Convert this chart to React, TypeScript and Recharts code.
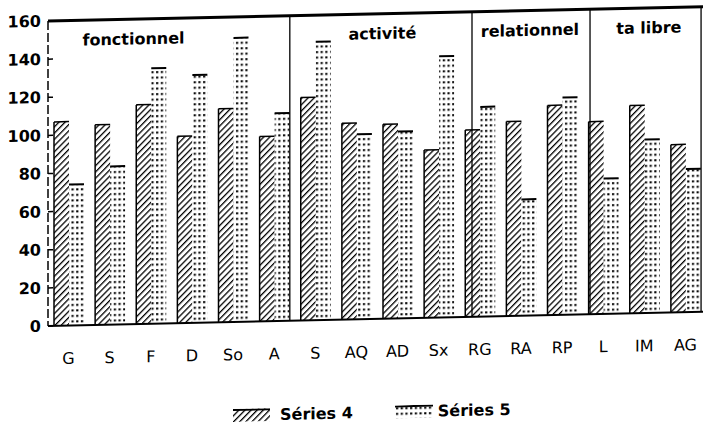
import { BarChart, Bar, XAxis, YAxis, ReferenceLine, Legend } from 'recharts'

// categories along the x axis (S appears twice, in two groups)
const CATEGORIES = ['G', 'S', 'F', 'D', 'So', 'A', 'S', 'AQ', 'AD', 'Sx', 'RG', 'RA', 'RP', 'L', 'IM', 'AG']
const SERIES_4 = [107, 105, 115, 98, 112, 97, 117, 103, 102, 88, 98, 102, 110, 101, 109, 88]
const SERIES_5 = [74, 83, 134, 130, 149, 109, 146, 97, 98, 137, 110, 61, 114, 71, 91, 75]
const Y_TICKS = [0, 20, 40, 60, 80, 100, 120, 140, 160]

// group headers and the dividers between them, on a 0..16 category index scale
const GROUP_NAMES = ['fonctionnel', 'activité', 'relationnel', 'ta libre']
const GROUP_LABEL_AT = [2.08, 8.13, 11.72, 14.61]
const GROUP_DIVIDERS = [5.88, 10.31, 13.18, 15.88]

const data = CATEGORIES.map((c, i) => ({ key: `${c}|${i}`, pos: i + 0.5, s4: SERIES_4[i], s5: SERIES_5[i] }))

const FONT = 'DejaVu Sans'

function HatchedBar(props: any) {
  const { x, y, width, height } = props
  if (!height) return null
  return (
    <g>
      <rect x={x} y={y} width={width} height={height} fill="url(#hatch)" />
      <line x1={x} y1={y} x2={x} y2={y + height} stroke="#000" strokeWidth={1.5} />
      <line x1={x} y1={y} x2={x + width} y2={y} stroke="#000" strokeWidth={1.5} />
    </g>
  )
}

function DottedBar(props: any) {
  const { x, y, width, height } = props
  if (!height) return null
  return (
    <g>
      <rect x={x} y={y} width={width} height={height} fill="url(#dots)" />
      <line x1={x} y1={y} x2={x + width} y2={y} stroke="#000" strokeWidth={2} />
    </g>
  )
}

function LegendBox() {
  const text = { fontFamily: FONT, fontWeight: 700, fontSize: 16, color: '#000' }
  return (
    <div style={{ display: 'flex', alignItems: 'center', height: 16 }}>
      <svg width={37} height={13}>
        <rect x={0} y={0} width={37} height={13} fill="url(#hatch)" />
        <line x1={0} y1={1} x2={37} y2={1} stroke="#000" strokeWidth={2} />
      </svg>
      <span style={{ ...text, marginLeft: 10 }}>Séries 4</span>
      <svg width={38} height={13} style={{ marginLeft: 42 }}>
        <rect x={0} y={0} width={38} height={13} fill="url(#dots)" />
        <line x1={0} y1={1} x2={38} y2={1} stroke="#000" strokeWidth={2} />
      </svg>
      <span style={{ ...text, marginLeft: 5 }}>Séries 5</span>
    </div>
  )
}

export default function App() {
  return (
    <div style={{ position: 'absolute', left: 0, top: 0, width: 703, height: 431, overflow: 'hidden', background: '#fff' }}>
      <div style={{ width: 708, height: 431, transform: 'skewY(-1.25deg)', transformOrigin: '48px 333px' }}>
        <BarChart
          width={708}
          height={431}
          data={data}
          margin={{ top: 21, right: 2, left: 8, bottom: 42 }}
          barCategoryGap={6}
          barGap={0}
        >
          <defs>
            <pattern id="hatch" patternUnits="userSpaceOnUse" width={4.4} height={4.4} patternTransform="rotate(45)">
              <rect width={4.4} height={4.4} fill="#fff" />
              <line x1={0} y1={0} x2={0} y2={4.4} stroke="#000" strokeWidth={2.6} />
            </pattern>
            <pattern id="dots" patternUnits="userSpaceOnUse" width={4.7} height={5.5}>
              <rect width={4.7} height={5.5} fill="#fff" />
              <rect x={1} y={2} width={2.2} height={2} fill="#000" />
            </pattern>
          </defs>
          <XAxis
            dataKey="key"
            interval={0}
            height={40}
            tickLine={false}
            tickMargin={21}
            tickFormatter={(v: string) => v.split('|')[0]}
            axisLine={{ stroke: '#000', strokeWidth: 2 }}
            tick={{ fill: '#000', fontSize: 16, fontFamily: FONT }}
          />
          <XAxis
            xAxisId="grp"
            dataKey="pos"
            type="number"
            scale="linear"
            domain={[0, 16]}
            allowDataOverflow
            padding={{ left: 0, right: 0 }}
            hide
          />
          <YAxis
            domain={[0, 160]}
            ticks={Y_TICKS}
            width={40}
            tickSize={-5}
            tickMargin={12}
            axisLine={{ stroke: '#000', strokeWidth: 1.5, strokeDasharray: '9 3' }}
            tickLine={{ stroke: '#000', strokeWidth: 1.5 }}
            tick={{ fill: '#000', fontSize: 16, fontWeight: 700, fontFamily: FONT }}
          />
          <ReferenceLine y={160} stroke="#000" strokeWidth={3} />
          {GROUP_DIVIDERS.map((d, i) => (
            <ReferenceLine key={`div${i}`} xAxisId="grp" x={d} stroke="#000" strokeWidth={1.3} ifOverflow="visible" />
          ))}
          {GROUP_NAMES.map((name, i) => (
            <ReferenceLine
              key={name}
              xAxisId="grp"
              x={GROUP_LABEL_AT[i]}
              stroke="none"
              label={{ value: name, position: 'insideTop', offset: 14, fill: '#000', fontSize: 16, fontWeight: 700, fontFamily: FONT }}
            />
          ))}
          <Legend content={<LegendBox />} wrapperStyle={{ top: 411, left: 233, width: 320 }} />
          <Bar dataKey="s4" name="Séries 4" shape={<HatchedBar />} isAnimationActive={false} />
          <Bar dataKey="s5" name="Séries 5" shape={<DottedBar />} isAnimationActive={false} />
        </BarChart>
      </div>
    </div>
  )
}
